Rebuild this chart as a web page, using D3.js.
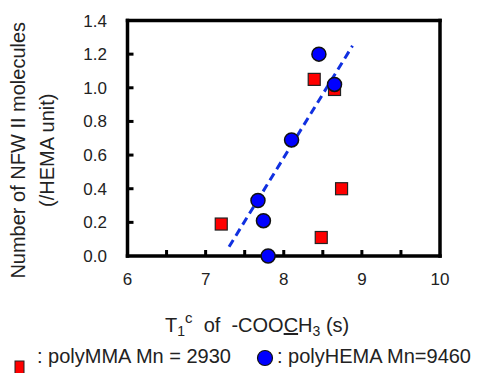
<!DOCTYPE html>
<html>
<head>
<meta charset="utf-8">
<script src="https://cdn.jsdelivr.net/npm/d3@7"></script>
<style>
  body { margin: 0; background: #fff; }
  svg { display: block; font-family: "Liberation Sans", Arial, sans-serif; }
</style>
</head>
<body>
<div id="chart"></div>
<script>
// polyMMA (red squares)
const mmaT1 = [7.20, 8.39, 8.65, 8.74, 8.48]
const mmaNFW = [0.19, 1.05, 0.99, 0.40, 0.11]
// polyHEMA (blue circles)
const hemaT1 = [7.80, 7.74, 7.67, 8.10, 8.65, 8.45]
const hemaNFW = [0.0, 0.21, 0.33, 0.69, 1.02, 1.20]
// dashed trend line end points
const fitT1 = [7.30, 8.88]
const fitNFW = [0.055, 1.25]

const xTicks = [6, 7, 8, 9, 10]
const xMinor = [6.5, 7, 7.5, 8, 8.5, 9, 9.5]
const yTicks = [0, 0.2, 0.4, 0.6, 0.8, 1.0, 1.2, 1.4]

const W = 480, H = 373
const margin = { top: 20.5, right: 40, bottom: 117, left: 127.5 }

const svg = d3.select("#chart").append("svg")
  .attr("width", W)
  .attr("height", H)

const x = d3.scaleLinear().domain([6, 10]).range([margin.left, W - margin.right])
const y = d3.scaleLinear().domain([0, 1.4]).range([H - margin.bottom, margin.top])

// frame as four filled bars (3px thick)
const t = 3.5
const fx0 = x(6), fx1 = x(10), fy0 = y(1.4), fy1 = y(0)
const frame = svg.append("g").attr("fill", "#000")
frame.append("rect").attr("x", fx0 - t / 2).attr("y", fy0 - t / 2).attr("width", fx1 - fx0 + t).attr("height", t)
frame.append("rect").attr("x", fx0 - t / 2).attr("y", fy1 - t / 2).attr("width", fx1 - fx0 + t).attr("height", t)
frame.append("rect").attr("x", fx0 - t / 2).attr("y", fy0 - t / 2).attr("width", t).attr("height", fy1 - fy0 + t)
frame.append("rect").attr("x", fx1 - t / 2).attr("y", fy0 - t / 2).attr("width", t).attr("height", fy1 - fy0 + t)

// inner ticks as small filled rects
frame.selectAll(".yt")
  .data(yTicks.slice(1, -1))
  .join("rect")
  .attr("x", fx0).attr("y", d => y(d) - 1.5)
  .attr("width", 6).attr("height", 3)
frame.selectAll(".xt")
  .data(xMinor)
  .join("rect")
  .attr("x", d => x(d) - 1.5).attr("y", fy1 - 6)
  .attr("width", 3).attr("height", 6)

// tick labels
svg.append("g")
  .selectAll("text")
  .data(yTicks)
  .join("text")
  .attr("x", 107)
  .attr("y", d => y(d) + 6)
  .attr("text-anchor", "end")
  .style("font-size", "17px")
  .attr("fill", "#222")
  .text(d => d3.format(".1f")(d))

svg.append("g")
  .selectAll("text")
  .data(xTicks)
  .join("text")
  .attr("x", d => x(d))
  .attr("y", 285)
  .attr("text-anchor", "middle")
  .style("font-size", "17px")
  .attr("fill", "#222")
  .text(d => d)

// axis titles
const yl = svg.append("text")
  .attr("transform", `translate(25, ${(y(0) + y(1.4)) / 2 + 12}) rotate(-90)`)
  .attr("text-anchor", "middle")
  .style("font-size", "20px")
  .attr("fill", "#222")
yl.append("tspan").attr("x", 0).attr("dy", 0).text("Number of NFW II molecules")
yl.append("tspan").attr("x", 0).attr("dy", 29).text("(/HEMA unit)")

const xl = svg.append("text")
  .attr("x", 165)
  .attr("y", 332)
  .style("font-size", "20px")
  .attr("fill", "#222")
xl.append("tspan").text("T")
xl.append("tspan").attr("dy", 4).style("font-size", "14px").text("1")
xl.append("tspan").attr("dy", -13).style("font-size", "15px").text("c")
xl.append("tspan").attr("dy", 9).text("\u00a0 of \u00a0-COO")
xl.append("tspan").style("text-decoration", "underline").text("C")
xl.append("tspan").text("H")
xl.append("tspan").attr("dy", 4).style("font-size", "14px").text("3")
xl.append("tspan").attr("dy", -4).text(" (s)")

// dashed fit line
svg.append("line")
  .attr("x1", x(fitT1[0])).attr("y1", y(fitNFW[0]))
  .attr("x2", x(fitT1[1])).attr("y2", y(fitNFW[1]))
  .attr("stroke", "#1030e0").attr("stroke-width", 3)
  .attr("stroke-dasharray", "8,5")

// markers
const sq = 12
svg.append("g")
  .selectAll("rect")
  .data(d3.range(mmaT1.length))
  .join("rect")
  .attr("x", i => x(mmaT1[i]) - sq / 2)
  .attr("y", i => y(mmaNFW[i]) - sq / 2)
  .attr("width", sq).attr("height", sq)
  .attr("fill", "#ff0000").attr("stroke", "#222").attr("stroke-width", 1.2)

svg.append("g")
  .selectAll("circle")
  .data(d3.range(hemaT1.length))
  .join("circle")
  .attr("cx", i => x(hemaT1[i]))
  .attr("cy", i => y(hemaNFW[i]))
  .attr("r", 7)
  .attr("fill", "#0000ff").attr("stroke", "#111").attr("stroke-width", 1.5)

// legend
svg.append("rect")
  .attr("x", 15).attr("y", 361).attr("width", 9).attr("height", 13)
  .attr("fill", "#ff0000").attr("stroke", "#222").attr("stroke-width", 1)
svg.append("text")
  .attr("x", 37).attr("y", 363)
  .style("font-size", "20px").attr("fill", "#222")
  .text(": polyMMA Mn = 2930")

svg.append("circle")
  .attr("cx", 265).attr("cy", 358).attr("r", 7.5)
  .attr("fill", "#0000ff").attr("stroke", "#111").attr("stroke-width", 1.2)
svg.append("text")
  .attr("x", 277).attr("y", 363)
  .style("font-size", "20px").attr("fill", "#222")
  .text(": polyHEMA Mn=9460")
</script>
</body>
</html>
